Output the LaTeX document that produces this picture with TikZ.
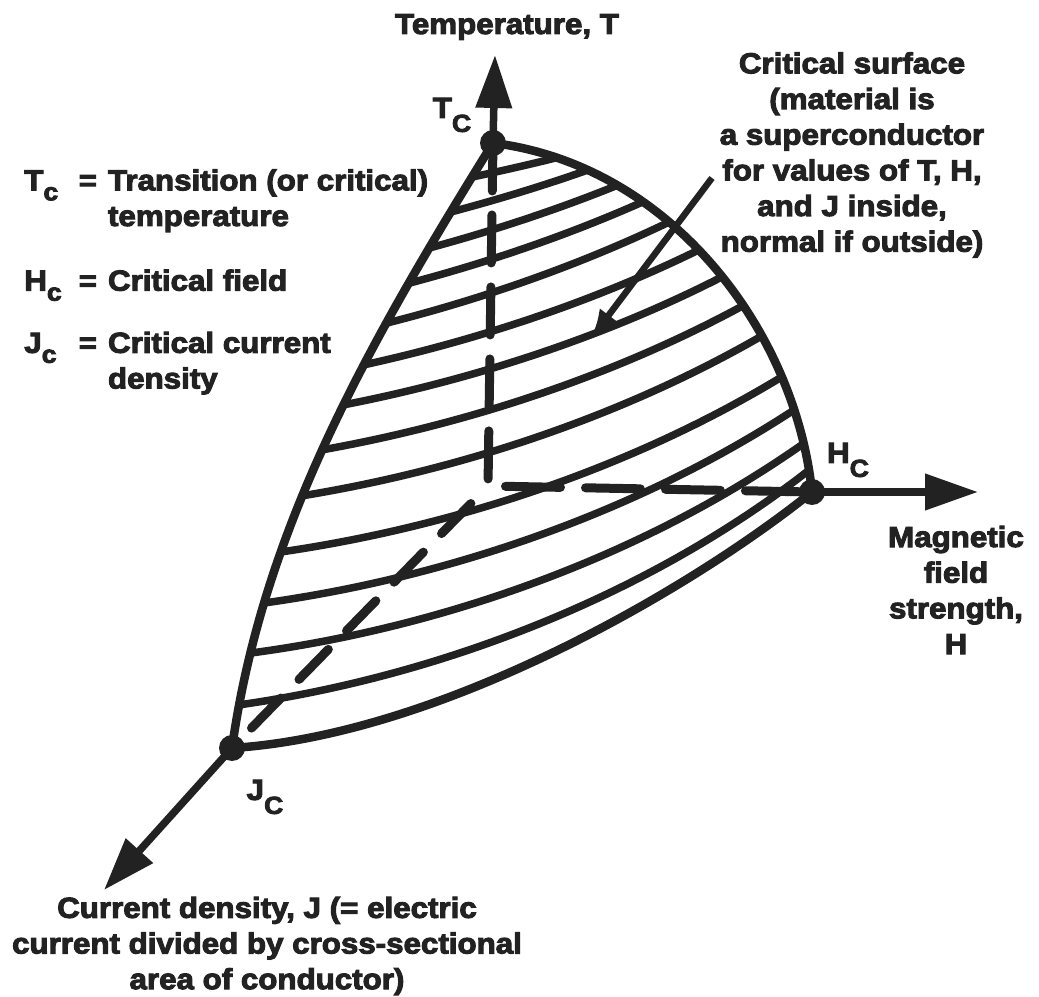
\documentclass[tikz,border=0pt]{standalone}
\usepackage{fontspec}
\setsansfont{Liberation Sans}[FakeStretch=1.08, BoldFeatures={FakeBold=3.5}]
\usetikzlibrary{arrows.meta,calc}
\definecolor{ink}{HTML}{222222}
\newcommand{\lowsub}[2][-0.28cm]{\raisebox{#1}{\fontsize{14}{14}\selectfont #2}}

\begin{document}
\begin{tikzpicture}[x=0.02cm,y=-0.02cm,
  every node/.style={font=\sffamily\bfseries\fontsize{16.5}{20.3}\selectfont, text=ink, inner sep=0pt},
  rim/.style={draw=ink, line width=0.17cm, line join=round},
  hatch/.style={draw=ink, line width=0.15cm, line cap=round},
  dashline/.style={draw=ink, line width=0.18cm, line cap=round},
  axisarrow/.style={draw=ink, line width=0.15cm, -{Triangle[length=1.06cm,width=0.7cm]}},
  pointer/.style={draw=ink, line width=0.13cm, -{Latex[length=0.62cm,width=0.45cm]}},
  knot/.style={circle, fill=ink, minimum size=0.52cm}]
\useasboundingbox (0,0) rectangle (1039,997);

% corner points of the critical surface
\coordinate (Tc) at (493,143);
\coordinate (Hc) at (812,492);
\coordinate (Jc) at (232,748);
\coordinate (O) at (488,486);
\coordinate (Ttip) at (495,55);
\coordinate (Htip) at (978,492);
\coordinate (Jtip) at (104,890);

% surface outline
\draw[rim] (Tc) .. controls (369,343) and (263,528) .. (Jc)
  .. controls (440,735) and (690,590) .. (Hc)
  .. controls (795,330) and (670,165) .. (Tc);

% points on the left and right edges
\path (Tc) .. controls (369,343) and (263,528) .. (Jc)
  coordinate[pos=.057] (l1) coordinate[pos=.116] (l2) coordinate[pos=.177] (l3)
  coordinate[pos=.237] (l4) coordinate[pos=.305] (l5) coordinate[pos=.376] (l6)
  coordinate[pos=.444] (l7) coordinate[pos=.52] (l8) coordinate[pos=.597] (l9)
  coordinate[pos=.69] (l10) coordinate[pos=.773] (l11) coordinate[pos=.853] (l12)
  coordinate[pos=.934] (l13);
\path (Tc) .. controls (670,165) and (795,330) .. (Hc)
  coordinate[pos=.125] (r1) coordinate[pos=.19] (r2) coordinate[pos=.255] (r3)
  coordinate[pos=.315] (r4) coordinate[pos=.38] (r5) coordinate[pos=.46] (r6)
  coordinate[pos=.53] (r7) coordinate[pos=.6] (r8) coordinate[pos=.67] (r9)
  coordinate[pos=.76] (r10) coordinate[pos=.83] (r11) coordinate[pos=.9] (r12)
  coordinate[pos=.955] (r13);

% hatching
\foreach \i [evaluate=\i as \a using 1.1*\i, evaluate=\i as \b using 1.2*\i] in {1,...,13}
  \draw[hatch] (l\i) .. controls ($(l\i)!0.33!-\a:(r\i)$) and ($(r\i)!0.33!\b:(l\i)$) .. (r\i);

% hidden parts of the axes
\draw[dashline, dash pattern=on 0.96cm off 0.48cm] (Tc) -- (O);
\draw[dashline, dash pattern=on 1.1cm off 0.5cm, dash phase=1.25cm] (O) -- (Hc);
\draw[dashline, dash pattern=on 0.84cm off 0.52cm, dash phase=0.87cm] (O) -- (Jc);

% axes
\draw[axisarrow] (Tc) -- (Ttip);
\draw[axisarrow] (Hc) -- (Htip);
\draw[axisarrow] (Jc) -- (Jtip);

\node[knot] (TcDot) at (Tc) {};
\node[knot] (HcDot) at (Hc) {};
\node[knot] (JcDot) at (Jc) {};

% labels
\node (Tname) at (507,27) {Temperature, T};
\node (TcLabel) at (452,115) {T\lowsub{C}};
\node (HcLabel) at (848,460) {H\lowsub{C}};
\node (JcLabel) at (265,797) {J\lowsub{C}};
\node[align=center] (surf) at (852,155) {Critical surface\\(material is\\a superconductor\\for values of T, H,\\and J inside,\\normal if outside)};
\node[align=center] (Hname) at (956,590) {Magnetic\\field\\strength,\\H};
\node[align=center] (Jname) at (267,946) {Current density, J (= electric\\current divided by cross-sectional\\area of conductor)};
\node[anchor=north west] (legend) at (24,165) {\begin{tabular}{@{}l@{\hspace{0.34cm}}c@{\hspace{0.22cm}}l@{}}
T\lowsub[-0.2cm]{c} & = & Transition (or critical)\\
 & & temperature\\[0.58cm]
H\lowsub[-0.2cm]{c} & = & Critical field\\[0.53cm]
J\lowsub[-0.2cm]{c} & = & Critical current\\
 & & density
\end{tabular}};

% pointer to the surface
\coordinate (ptail) at (712,178);
\coordinate (phead) at (590,340);
\draw[pointer] (ptail) -- (phead);
\end{tikzpicture}
\end{document}
